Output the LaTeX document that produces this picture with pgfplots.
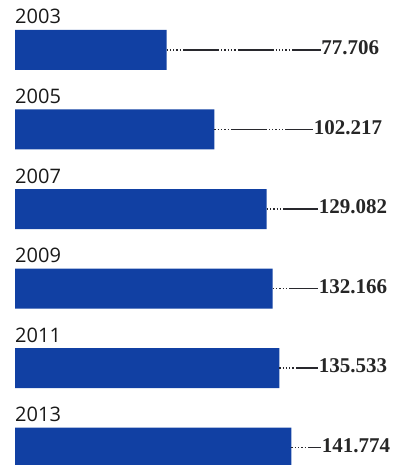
\documentclass[border=0pt]{standalone}
\usepackage{fontspec}
\setmainfont{Liberation Serif}
\newfontfamily\yearfont{Open Sans}
\usepackage{pgfplots}
\pgfplotsset{compat=1.18}
\definecolor{barblue}{RGB}{17,64,163}
\definecolor{leader}{RGB}{40,40,45}
\begin{document}
\begin{tikzpicture}
\begin{axis}[
  scale only axis, width=393pt, height=465pt,
  xmin=-7.692, xmax=193.846,
  ymin=0, ymax=465, y dir=reverse,
  hide axis, clip=true,
]
% bars: value, bar centre (px from top)
\addplot[xbar, bar width=40pt, fill=barblue, draw=none] coordinates {
  (77.706,50) (102.217,129.5) (129.082,209) (132.166,288.5) (135.533,368) (141.774,447.5)};
% leader lines
\pgfplotsset{leaderstyle/.style={leader, line width=1.3pt,
  dash pattern=on 1.3pt off 2pt on 1.3pt off 2pt on 1.3pt off 2pt on 1.3pt off 2pt on 1.3pt off 2pt on 36pt off 2pt}}
\addplot[leaderstyle] coordinates {(77.706,50) (187,50)};
\addplot[leaderstyle] coordinates {(102.217,129.5) (188,129.5)};
\addplot[leaderstyle] coordinates {(129.082,209) (190,209)};
\addplot[leaderstyle] coordinates {(132.166,288.5) (190,288.5)};
\addplot[leaderstyle] coordinates {(135.533,368) (190,368)};
\addplot[leaderstyle] coordinates {(141.774,447.5) (192,447.5)};
% value labels
\addplot[draw=none, mark=none, nodes near coords, point meta=explicit symbolic,
  nodes near coords style={anchor=east, fill=white, inner xsep=0.6pt, inner ysep=2pt,
    font=\fontsize{21}{23}\selectfont\bfseries, text=black!85}]
  table[meta=label] {
x y label
187.2 48 77.706
188.7 127.5 102.217
191.3 207 129.082
191.3 286.5 132.166
191.3 366 135.533
192.8 445.5 141.774
};
% year labels
\addplot[draw=none, mark=none, nodes near coords, point meta=explicit symbolic,
  nodes near coords style={anchor=base west, inner sep=0pt,
    font=\yearfont\fontsize{20}{22}\selectfont, text=black!90}]
  table[meta=label] {
x y label
0 24 2003
0 103.5 2005
0 183 2007
0 262.5 2009
0 342 2011
0 421.5 2013
};
\end{axis}
\pgfresetboundingbox
\useasboundingbox (current axis.south west) rectangle (current axis.north east);
\end{tikzpicture}
\end{document}
